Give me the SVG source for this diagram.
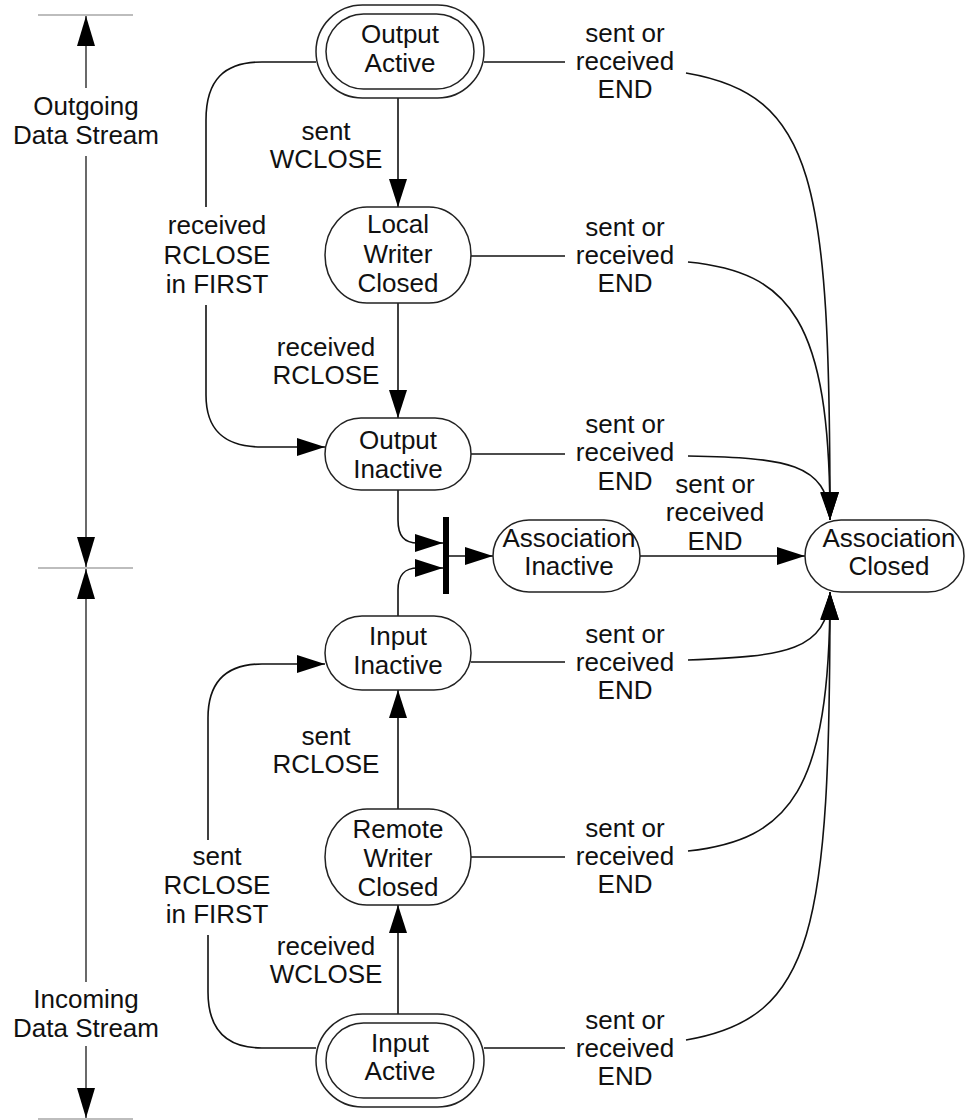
<svg xmlns="http://www.w3.org/2000/svg" width="965" height="1120" viewBox="0 0 965 1120">
  <style>
    text { font-family: "Liberation Sans", Arial, sans-serif; font-size: 26px; fill: #111; text-anchor: middle; }
    .node { fill: #fff; stroke: #222; stroke-width: 1.5; }
    .conn { fill: none; stroke: #111; stroke-width: 1.6; }
    .dim { fill: none; stroke: #444; stroke-width: 1.6; }
    .ref { fill: none; stroke: #bdbdbd; stroke-width: 2; }
  </style>
  <defs>
    <marker id="arrow" markerUnits="userSpaceOnUse" markerWidth="30" markerHeight="20" refX="28" refY="9" orient="auto">
      <path d="M0,0 L28,9 L0,18 Z" fill="#000"/>
    </marker>
    <marker id="dimArrow" markerUnits="userSpaceOnUse" markerWidth="32" markerHeight="20" refX="30" refY="9" orient="auto">
      <path d="M0,0 L30,9 L0,18 Z" fill="#000"/>
    </marker>
  </defs>

  <!-- extent markers for the two data streams -->
  <g id="extents">
    <line class="ref" x1="38" y1="15" x2="133" y2="15"/>
    <line class="ref" x1="38" y1="568" x2="133" y2="568"/>
    <line class="ref" x1="38" y1="1119" x2="133" y2="1119"/>
    <path class="dim" d="M86,88 V16" marker-end="url(#dimArrow)"/>
    <path class="dim" d="M86,156 V567" marker-end="url(#dimArrow)"/>
    <path class="dim" d="M86,982 V569" marker-end="url(#dimArrow)"/>
    <path class="dim" d="M86,1046 V1118" marker-end="url(#dimArrow)"/>
    <text x="86" y="115">Outgoing</text>
    <text x="86" y="144">Data Stream</text>
    <text x="86" y="1008">Incoming</text>
    <text x="86" y="1037">Data Stream</text>
  </g>

  <!-- transitions -->
  <g id="connectors">
    <path class="conn" d="M398,98 V207" marker-end="url(#arrow)"/>
    <path class="conn" d="M398,303 V418" marker-end="url(#arrow)"/>
    <path class="conn" d="M316,62 H262 C224,62 206,80 206,120 V207"/>
    <path class="conn" d="M206,305 V395 C206,430 224,447 262,447 H325" marker-end="url(#arrow)"/>
    <path class="conn" d="M398,490 V520 C398,536 404,543 418,543 H443" marker-end="url(#arrow)"/>
    <path class="conn" d="M398,616 V590 C398,575 404,568 418,568 H443" marker-end="url(#arrow)"/>
    <path class="conn" d="M449,556 H493" marker-end="url(#arrow)"/>
    <path class="conn" d="M640,556 H805" marker-end="url(#arrow)"/>
    <path class="conn" d="M398,1014 V905" marker-end="url(#arrow)"/>
    <path class="conn" d="M398,810 V690" marker-end="url(#arrow)"/>
    <path class="conn" d="M316,1048 H262 C226,1048 208,1030 208,992 V935"/>
    <path class="conn" d="M208,840 V718 C208,682 226,664 262,664 H325" marker-end="url(#arrow)"/>
    <!-- END lines into Association Closed -->
    <path class="conn" d="M484,62 H565"/>
    <path class="conn" d="M686,73 C815,95 830,180 830,520" marker-end="url(#arrow)"/>
    <path class="conn" d="M471,256 H565"/>
    <path class="conn" d="M688,262 C790,272 830,320 830,520" marker-end="url(#arrow)"/>
    <path class="conn" d="M471,454 H565"/>
    <path class="conn" d="M688,456 C785,458 828,462 830,520" marker-end="url(#arrow)"/>
    <path class="conn" d="M471,662 H565"/>
    <path class="conn" d="M688,660 C785,656 828,652 830,592" marker-end="url(#arrow)"/>
    <path class="conn" d="M471,857 H565"/>
    <path class="conn" d="M688,851 C790,840 830,790 830,592" marker-end="url(#arrow)"/>
    <path class="conn" d="M484,1048 H565"/>
    <path class="conn" d="M686,1040 C815,1018 830,930 830,592" marker-end="url(#arrow)"/>
    <!-- join bar -->
    <rect x="443" y="517" width="6" height="77" fill="#000"/>
  </g>

  <!-- transition labels -->
  <g id="labels">
    <text x="326" y="140">sent</text>
    <text x="326" y="168">WCLOSE</text>
    <text x="326" y="356">received</text>
    <text x="326" y="384">RCLOSE</text>
    <text x="217" y="234">received</text>
    <text x="217" y="264">RCLOSE</text>
    <text x="217" y="293">in FIRST</text>
    <text x="326" y="745">sent</text>
    <text x="326" y="773">RCLOSE</text>
    <text x="326" y="955">received</text>
    <text x="326" y="983">WCLOSE</text>
    <text x="217" y="865">sent</text>
    <text x="217" y="894">RCLOSE</text>
    <text x="217" y="923">in FIRST</text>
    <text x="625" y="42">sent or</text>
    <text x="625" y="70">received</text>
    <text x="625" y="98">END</text>
    <text x="625" y="236">sent or</text>
    <text x="625" y="264">received</text>
    <text x="625" y="292">END</text>
    <text x="625" y="433">sent or</text>
    <text x="625" y="461">received</text>
    <text x="625" y="490">END</text>
    <text x="715" y="493">sent or</text>
    <text x="715" y="521">received</text>
    <text x="715" y="550">END</text>
    <text x="625" y="643">sent or</text>
    <text x="625" y="671">received</text>
    <text x="625" y="699">END</text>
    <text x="625" y="837">sent or</text>
    <text x="625" y="865">received</text>
    <text x="625" y="893">END</text>
    <text x="625" y="1029">sent or</text>
    <text x="625" y="1057">received</text>
    <text x="625" y="1085">END</text>
  </g>

  <g id="output-active">
    <rect class="node" x="316" y="5" width="168" height="93" rx="46.5"/>
    <rect class="node" x="326" y="14" width="148" height="75" rx="37.5"/>
    <text x="400" y="43">Output</text>
    <text x="400" y="72">Active</text>
  </g>
  <g id="local-writer-closed">
    <rect class="node" x="325" y="207" width="146" height="96" rx="42" ry="48"/>
    <text x="398" y="233">Local</text>
    <text x="398" y="263">Writer</text>
    <text x="398" y="292">Closed</text>
  </g>
  <g id="output-inactive">
    <rect class="node" x="325" y="418" width="146" height="72" rx="36"/>
    <text x="398" y="449">Output</text>
    <text x="398" y="478">Inactive</text>
  </g>
  <g id="association-inactive">
    <rect class="node" x="493" y="520" width="147" height="72" rx="36"/>
    <text x="569" y="547">Association</text>
    <text x="569" y="575">Inactive</text>
  </g>
  <g id="association-closed">
    <rect class="node" x="805" y="520" width="159" height="72" rx="36"/>
    <text x="889" y="547">Association</text>
    <text x="889" y="575">Closed</text>
  </g>
  <g id="input-inactive">
    <rect class="node" x="325" y="616" width="146" height="74" rx="37"/>
    <text x="398" y="645">Input</text>
    <text x="398" y="674">Inactive</text>
  </g>
  <g id="remote-writer-closed">
    <rect class="node" x="325" y="809" width="146" height="96" rx="42" ry="48"/>
    <text x="398" y="838">Remote</text>
    <text x="398" y="867">Writer</text>
    <text x="398" y="896">Closed</text>
  </g>
  <g id="input-active">
    <rect class="node" x="316" y="1014" width="168" height="93" rx="46.5"/>
    <rect class="node" x="326" y="1023" width="148" height="75" rx="37.5"/>
    <text x="400" y="1052">Input</text>
    <text x="400" y="1080">Active</text>
  </g>
</svg>
